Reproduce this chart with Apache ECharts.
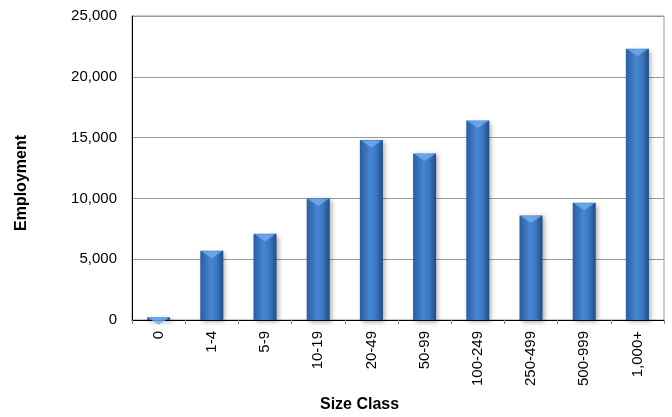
<!DOCTYPE html>
<html>
<head>
<meta charset="utf-8">
<script src="https://cdn.jsdelivr.net/npm/echarts@6/dist/echarts.min.js"></script>
<style>html,body{margin:0;padding:0;background:#fff}#c{width:672px;height:417px}</style>
</head>
<body>
<div id="c"></div>
<script>
var categories = ['0','1-4','5-9','10-19','20-49','50-99','100-249','250-499','500-999','1,000+'];
var employment = [220, 5700, 7100, 10000, 14800, 13700, 16400, 8600, 9650, 22300];
var yTicks = [0, 5000, 10000, 15000, 20000, 25000];

var chart = echarts.init(document.getElementById('c'));
var font = '"Liberation Sans", Arial, sans-serif';
chart.setOption({
  animation: false,
  grid: { left: 132, right: 8, top: 16, bottom: 97, show: true, borderColor: '#999', borderWidth: 1, backgroundColor: 'transparent' },
  xAxis: {
    type: 'category',
    data: categories,
    axisLine: { lineStyle: { color: '#000', width: 1 } },
    axisTick: { show: true, alignWithLabel: false, length: 4, lineStyle: { color: '#888' } },
    axisLabel: { rotate: 90, color: '#000', fontFamily: font, fontSize: 15, margin: 11, interval: 0 }
  },
  yAxis: {
    type: 'value',
    min: yTicks[0], max: yTicks[yTicks.length - 1], interval: 5000,
    axisLine: { show: true, lineStyle: { color: '#000', width: 1 } },
    axisTick: { show: false },
    splitLine: { lineStyle: { color: '#999', width: 1 } },
    axisLabel: {
      color: '#000', fontFamily: font, fontSize: 15, margin: 15,
      formatter: function (v) { return v.toLocaleString('en-US'); }
    }
  },
  graphic: [
    { type: 'text', x: 14, y: 231, rotation: Math.PI / 2, style: { text: 'Employment', font: 'bold 16px ' + font, fill: '#000' } },
    { type: 'text', x: 320, y: 397, style: { text: 'Size Class', font: 'bold 16px ' + font, fill: '#000' } }
  ],
  series: [
    {
      type: 'bar',
      data: employment,
      barWidth: 23,
      itemStyle: {
        color: new echarts.graphic.LinearGradient(0, 0, 1, 0, [
          { offset: 0, color: '#2a5d9f' },
          { offset: 0.45, color: '#4686d2' },
          { offset: 0.7, color: '#3c78c0' },
          { offset: 1, color: '#1f4c86' }
        ]),
        shadowColor: 'rgba(0,0,0,0.35)',
        shadowBlur: 5,
        shadowOffsetX: 2,
        shadowOffsetY: 2
      }
    },
    {
      type: 'scatter',
      data: employment,
      symbol: 'triangle',
      symbolRotate: 180,
      symbolSize: [21, 7],
      symbolOffset: [0, 4],
      itemStyle: { color: '#6faeee' },
      z: 3
    }
  ]
});
</script>
</body>
</html>
